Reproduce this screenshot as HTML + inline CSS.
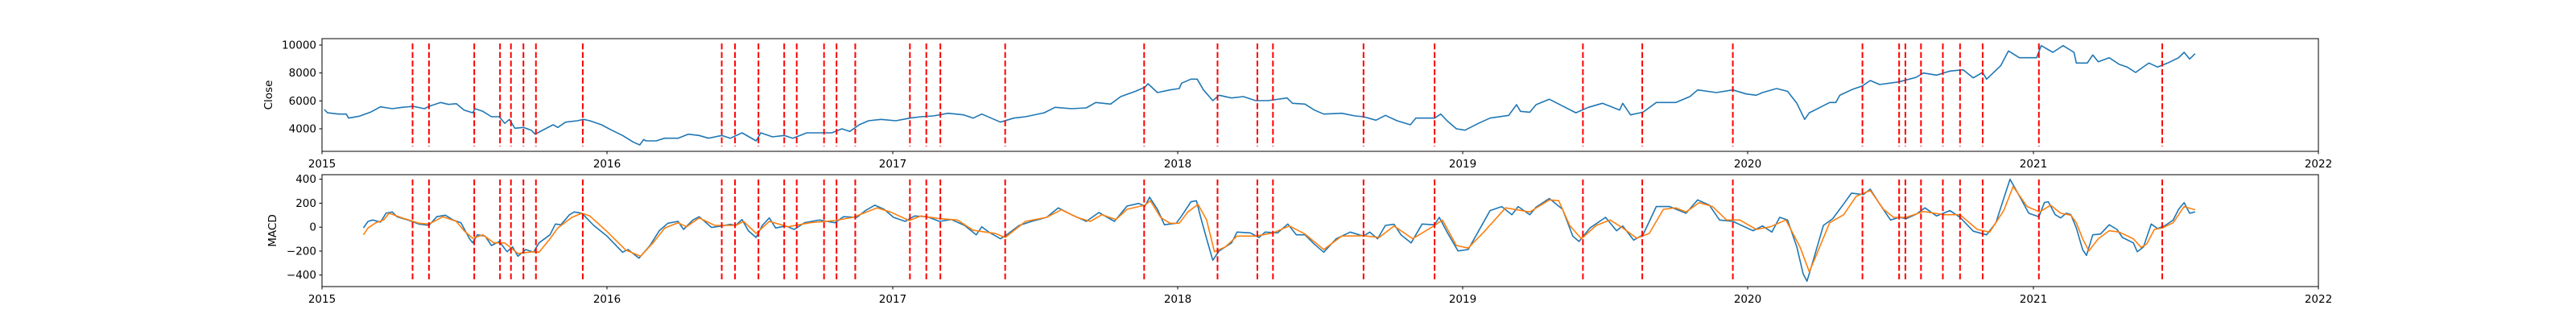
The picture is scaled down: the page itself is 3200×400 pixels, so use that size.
<!DOCTYPE html>
<html><head><meta charset="utf-8"><style>
html,body{margin:0;padding:0;background:#fff;}
svg{display:block;font-family:"DejaVu Sans","Liberation Sans",sans-serif;}
</style></head><body>
<svg id="chart" xmlns="http://www.w3.org/2000/svg" width="3200" height="400" viewBox="0 0 3200 400">
<rect x="0" y="0" width="3200" height="400" fill="#fff"/>
<g id="top"></g>
<g id="bot"></g>
</svg>
<script>
// days since 2015-01-01
const closeDays=[3,7,21,31,34,48,62,75,90,103,117,131,137,152,162,172,182,193,196,206,217,227,234,240,247,258,268,273,286,296,302,312,327,335,343,358,371,385,399,407,412,415,428,439,456,469,483,495,512,523,538,556,562,577,592,603,621,640,653,666,676,688,700,716,735,753,767,783,802,822,834,845,869,886,901,925,939,960,979,991,1010,1023,1042,1054,1058,1070,1086,1098,1101,1113,1121,1129,1141,1149,1165,1180,1196,1212,1236,1243,1259,1271,1283,1306,1323,1334,1350,1362,1377,1394,1401,1425,1433,1441,1453,1464,1481,1496,1520,1530,1535,1547,1555,1572,1589,1606,1622,1640,1662,1666,1676,1692,1709,1734,1752,1762,1786,1807,1824,1837,1845,1863,1877,1889,1899,1905,1919,1931,1939,1944,1961,1973,1983,1995,2020,2042,2051,2068,2085,2102,2115,2127,2132,2150,2160,2174,2196,2202,2217,2230,2244,2247,2261,2268,2275,2289,2302,2312,2323,2330,2340,2351,2364,2378,2385,2392,2399];
const closeValues=[5384,5150,5055,5055,4767,4905,5190,5573,5440,5540,5610,5440,5610,5886,5750,5800,5345,5150,5440,5250,4865,4865,4385,4674,4040,4096,3903,3615,4000,4288,4096,4480,4577,4674,4577,4288,3903,3520,3036,2845,3230,3134,3134,3326,3326,3615,3519,3326,3519,3326,3711,3134,3711,3422,3519,3326,3711,3711,3711,4000,3808,4288,4577,4674,4577,4770,4865,4923,5115,5000,4770,5055,4480,4770,4865,5150,5540,5440,5500,5886,5770,6307,6690,6980,7230,6596,6786,6884,7270,7559,7559,6786,6019,6405,6210,6307,6019,6019,6210,5828,5770,5345,5055,5115,4923,4865,4617,4963,4577,4288,4770,4770,5055,4577,4000,3903,4385,4770,4963,5730,5250,5190,5730,6117,5634,5150,5540,5828,5345,5828,5000,5190,5886,5886,6307,6786,6596,6786,6500,6405,6596,6884,6690,5828,4674,5150,5540,5886,5886,6405,6846,7077,7461,7173,7365,7692,7999,7848,8136,8230,7652,8038,7559,8517,9580,9094,9094,9960,9480,9960,9480,8713,8713,9290,8806,9094,8615,8425,8038,8327,8713,8425,8713,9094,9480,9000,9384];
const macdDays=[53,59,65,75,82,90,96,110,124,137,147,158,168,178,189,193,199,209,217,227,237,244,251,261,271,278,292,299,306,317,323,333,348,365,385,392,406,420,432,443,456,463,475,483,499,512,523,530,538,546,556,564,573,581,594,605,618,637,657,668,685,696,708,720,732,747,759,775,791,806,823,838,845,854,869,877,893,909,928,943,960,979,995,1015,1031,1046,1054,1060,1070,1079,1094,1101,1113,1120,1125,1133,1141,1149,1165,1172,1189,1200,1208,1224,1237,1248,1259,1271,1283,1299,1317,1334,1342,1352,1362,1373,1382,1395,1409,1425,1431,1441,1455,1468,1485,1496,1511,1524,1532,1547,1555,1572,1589,1602,1610,1624,1644,1658,1666,1680,1692,1709,1726,1747,1762,1777,1790,1807,1833,1845,1857,1867,1877,1889,1897,1902,1910,1923,1935,1949,1959,1974,1983,1995,2009,2020,2029,2042,2053,2068,2085,2098,2115,2132,2144,2154,2162,2174,2186,2199,2206,2211,2220,2227,2234,2240,2247,2255,2260,2268,2278,2289,2299,2306,2320,2325,2333,2343,2351,2361,2371,2378,2385,2392,2399];
const macdValues=[-7,48,60,42,116,127,87,60,26,15,87,100,60,37,-97,-131,-64,-75,-153,-120,-205,-165,-243,-187,-209,-131,-64,26,20,104,127,116,15,-75,-209,-187,-259,-153,-30,33,48,-19,60,87,-3,10,24,15,64,-30,-86,15,77,-7,10,-19,37,60,37,87,82,138,183,149,82,48,93,87,48,64,15,-64,3,-41,-97,-64,15,48,82,161,104,48,122,48,176,198,176,250,149,20,33,93,212,220,93,-97,-276,-198,-131,-41,-48,-86,-41,-48,26,-64,-64,-142,-209,-97,-41,-75,-41,-97,15,24,-64,-131,26,20,82,-41,-198,-187,10,138,172,104,172,104,167,239,149,-75,-120,-7,82,-30,10,-108,-64,172,172,116,228,183,60,48,-30,10,-41,82,60,-165,-389,-451,-276,15,71,194,284,272,317,194,60,82,71,109,161,93,138,82,-34,-64,37,239,400,261,116,87,205,212,104,77,116,104,-7,-187,-236,-64,-57,20,-19,-86,-131,-205,-165,26,-12,15,60,149,205,116,127];
const signalDays=[53,59,69,79,86,103,124,137,155,172,182,193,206,220,234,251,271,278,292,302,320,333,343,364,389,408,424,439,456,467,483,503,530,540,556,573,597,625,657,680,711,728,752,767,791,814,834,862,875,901,928,947,967,984,999,1017,1031,1054,1061,1074,1086,1098,1109,1122,1133,1143,1157,1172,1196,1218,1239,1259,1283,1306,1334,1354,1373,1397,1425,1435,1453,1468,1488,1516,1547,1572,1584,1598,1613,1632,1650,1666,1684,1700,1718,1734,1747,1764,1781,1799,1816,1837,1855,1875,1893,1905,1914,1931,1949,1965,1983,2000,2013,2029,2051,2077,2098,2120,2136,2154,2166,2184,2200,2214,2227,2240,2247,2255,2263,2275,2289,2302,2320,2330,2337,2347,2357,2371,2385,2399];
const signalValues=[-64,-7,37,60,116,77,33,26,87,48,-30,-93,-64,-131,-131,-220,-205,-209,-97,-7,82,116,93,-30,-191,-243,-131,-7,37,3,77,15,15,48,-52,48,3,37,55,82,161,127,55,93,71,60,-26,-52,-86,48,82,145,82,48,104,64,149,183,221,82,33,33,127,190,60,-205,-165,-75,-75,-48,10,-57,-187,-75,-71,-86,10,-97,15,60,-153,-175,-41,161,127,228,221,15,-97,15,60,-7,-93,-52,149,161,127,205,172,60,60,-19,3,60,-165,-373,-232,37,104,257,306,149,82,82,131,104,104,-19,-41,138,339,172,127,183,116,100,37,-97,-198,-97,-30,-41,-97,-169,-142,-19,-7,37,172,145];
const signalDates=[116,137,195,228,242,258,274,334,512,529,559,592,608,643,659,683,753,774,792,875,1053,1147,1198,1218,1334,1425,1615,1691,1807,1973,2020,2028,2048,2076,2098,2127,2199,2357];
const yearLabels=["2015","2016","2017","2018","2019","2020","2021","2022"];
const yearDays=[0,365,731,1096,1461,1826,2192,2557];
const closeTicks=[4000,6000,8000,10000];
const macdTicks=[-400,-200,0,200,400];

const NS="http://www.w3.org/2000/svg";
const X0=400,X1=2880,D0=0,D1=2557;
function xs(d){return X0+(d-D0)/(D1-D0)*(X1-X0);}
function mk(tag,attrs,parent){const e=document.createElementNS(NS,tag);for(const k in attrs)e.setAttribute(k,attrs[k]);parent.appendChild(e);return e;}
function panel(g,top,bot,lo,hi,ticks,label,name){
  const ys=v=>bot-(v-lo)/(hi-lo)*(bot-top);
  return {ys,top,bot,g,ticks,label,name};
}
const P1=panel(document.getElementById('top'),48,188,2385,10460,closeTicks,'Close','close');
const P2=panel(document.getElementById('bot'),217,356,-496,438,macdTicks,'MACD','macd');
function line(p,days,vals,color,nm){
  let d='';for(let i=0;i<days.length;i++)d+=(i?'L':'M')+xs(days[i]).toFixed(1)+' '+p.ys(vals[i]).toFixed(1);
  const e=mk('path',{d:d,fill:'none',stroke:color,'stroke-width':1.6,'stroke-linejoin':'round'},p.g);
  
  
}
function frame(p){
  const h=p.bot-p.top;
  signalDates.forEach((d)=>{
    const e=mk('line',{x1:xs(d),x2:xs(d),y1:p.top+h*0.043,y2:p.bot-h*0.043,stroke:'#ff0000','stroke-width':2,'stroke-dasharray':'7.4,3.2'},p.g);
    
    
  });
  p.ticks.forEach((v)=>{
    const y=p.ys(v);
    const t=mk('line',{x1:X0-3.5,x2:X0,y1:y,y2:y,stroke:'#000','stroke-width':1},p.g);
    
    
    const tx=mk('text',{x:X0-7,y:y+4.5,'text-anchor':'end','font-size':13.5,fill:'#000'},p.g);
    tx.textContent=(v<0?'\u2212'+Math.abs(v):String(v));
    
    
  });
  yearDays.forEach((d,i)=>{
    const x=xs(d);
    const t=mk('line',{x1:x,x2:x,y1:p.bot,y2:p.bot+3.5,stroke:'#000','stroke-width':1},p.g);
    
    
    const tx=mk('text',{x:x,y:p.bot+20,'text-anchor':'middle','font-size':13.5,fill:'#000'},p.g);
    tx.textContent=yearLabels[i];
    
    
  });
  const r=mk('rect',{x:X0,y:p.top,width:X1-X0,height:h,fill:'none',stroke:'#000','stroke-width':1},p.g);
  
  
  const cx=p.name==='close'?338:343, cy=(p.top+p.bot)/2;
  const lb=mk('text',{x:cx,y:cy,'text-anchor':'middle','font-size':13.5,fill:'#000',transform:'rotate(-90 '+cx+' '+cy+')'},p.g);
  lb.textContent=p.label;
  
  
}
line(P1,closeDays,closeValues,'#1f77b4','close-line');
frame(P1);
line(P2,macdDays,macdValues,'#1f77b4','macd-line');
line(P2,signalDays,signalValues,'#ff7f0e','signal-line');
frame(P2);
</script>
</body></html>
